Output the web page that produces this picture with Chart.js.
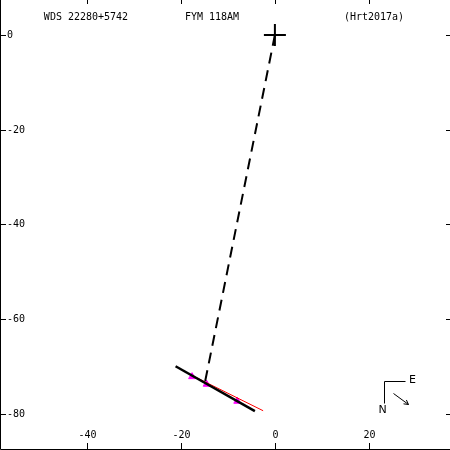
<!DOCTYPE html>
<html>
<head>
<meta charset="utf-8">
<script src="https://cdn.jsdelivr.net/npm/chart.js@4"></script>
<style>
  html, body { margin: 0; padding: 0; background: #fff; }
  #wrap { width: 450px; height: 450px; }
</style>
</head>
<body>
<div id="wrap"><canvas id="ChartCanvas" width="450" height="450"></canvas></div>
<script>
// titles along the top
const titles = ['WDS 22280+5742', 'FYM 118AM', '(Hrt2017a)'];
const titleX = [86, 212, 374];

// tick values
const xTicks = [-40, -20, 0, 20];
const yTicks = [0, -20, -40, -60, -80];

// primary star
const primary = [{x: 0, y: 0}];
// line from primary to the predicted position
const connector = [{x: 0, y: 0}, {x: -14.9, y: -73.6}];
// computed orbit segment
const orbitLine = [{x: -21.1, y: -70.0}, {x: -4.25, y: -79.5}];
// linear fit
const fitLine = [{x: -18.5, y: -71.5}, {x: -2.5, y: -79.4}];
// measurements
const measures = [{x: -17.6, y: -72.2}, {x: -14.5, y: -73.8}, {x: -8.0, y: -77.4}];

const FONT = '10px "DejaVu Sans Mono", monospace';

const frame = {
  id: 'frame',
  afterDraw: chart => {
    const ctx = chart.ctx;
    const xs = chart.scales.x;
    const ys = chart.scales.y;
    const w = chart.width, h = chart.height;
    ctx.save();
    ctx.strokeStyle = '#000';
    ctx.fillStyle = '#000';
    ctx.lineWidth = 1;
    ctx.font = FONT;

    // left and bottom axis lines
    ctx.beginPath();
    ctx.moveTo(0.5, 0);
    ctx.lineTo(0.5, h - 0.5);
    ctx.lineTo(w, h - 0.5);
    ctx.stroke();

    // x ticks top and bottom
    ctx.textAlign = 'center';
    ctx.textBaseline = 'middle';
    xTicks.forEach(v => {
      const px = Math.round(xs.getPixelForValue(v)) + 0.5;
      ctx.beginPath();
      ctx.moveTo(px, 0); ctx.lineTo(px, 4);
      ctx.moveTo(px, h - 7); ctx.lineTo(px, h);
      ctx.stroke();
      ctx.fillText(String(v), px, h - 15);
    });

    // y ticks left and right
    ctx.textAlign = 'left';
    yTicks.forEach(v => {
      const py = Math.round(ys.getPixelForValue(v)) + 0.5;
      ctx.beginPath();
      ctx.moveTo(0, py); ctx.lineTo(6, py);
      ctx.moveTo(w - 4, py); ctx.lineTo(w, py);
      ctx.stroke();
      ctx.fillText(String(v), 7, py);
    });

    // titles
    ctx.textAlign = 'center';
    titles.forEach((t, i) => ctx.fillText(t, titleX[i], 17));

    // N / E orientation
    const ox = w - 65.5, oy = h - 68.5;
    ctx.beginPath();
    ctx.moveTo(ox + 21, oy);
    ctx.lineTo(ox, oy);
    ctx.lineTo(ox, oy + 22);
    ctx.stroke();
    ctx.font = '11px "DejaVu Sans", sans-serif';
    ctx.fillText('E', ox + 28, oy - 1);
    ctx.fillText('N', ox - 2, oy + 29);

    // motion arrow
    const ax1 = ox + 9, ay1 = oy + 12, ax2 = ox + 24, ay2 = oy + 23;
    ctx.beginPath();
    ctx.moveTo(ax1, ay1); ctx.lineTo(ax2, ay2);
    ctx.stroke();
    const ang = Math.atan2(ay2 - ay1, ax2 - ax1);
    ctx.beginPath();
    ctx.moveTo(ax2, ay2);
    ctx.lineTo(ax2 - 5 * Math.cos(ang - 0.5), ay2 - 5 * Math.sin(ang - 0.5));
    ctx.moveTo(ax2, ay2);
    ctx.lineTo(ax2 - 5 * Math.cos(ang + 0.5), ay2 - 5 * Math.sin(ang + 0.5));
    ctx.stroke();
    ctx.restore();
  }
};

const chart = new Chart(document.getElementById('ChartCanvas'), {
  type: 'scatter',
  data: {
    datasets: [{
      label: 'connector',
      data: connector,
      showLine: true,
      borderColor: '#000',
      borderWidth: 2,
      borderDash: [11, 7],
      pointRadius: 0
    }, {
      label: 'orbit',
      data: orbitLine,
      showLine: true,
      borderColor: '#000',
      borderWidth: 2.5,
      pointRadius: 0
    }, {
      label: 'fit',
      data: fitLine,
      showLine: true,
      borderColor: '#ff0000',
      borderWidth: 1,
      pointRadius: 0
    }, {
      label: 'measures',
      data: measures,
      pointStyle: 'triangle',
      pointRadius: 4,
      backgroundColor: '#ff00ff',
      borderColor: '#ff00ff',
      borderWidth: 1
    }, {
      label: 'primary',
      data: primary,
      pointStyle: 'cross',
      pointRadius: 11,
      borderColor: '#000',
      borderWidth: 2
    }]
  },
  options: {
    responsive: false,
    animation: false,
    layout: { padding: 0, autoPadding: false },
    scales: {
      x: { display: false, min: -58.4, max: 37.2 },
      y: { display: false, min: -87.7, max: 7.4 }
    },
    plugins: {
      legend: { display: false },
      tooltip: { enabled: false }
    }
  },
  plugins: [frame]
});
</script>
</body>
</html>
